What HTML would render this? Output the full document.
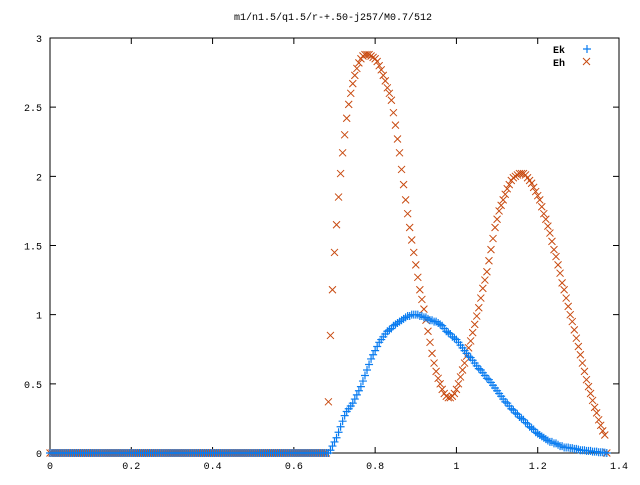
<!DOCTYPE html>
<html><head><meta charset="utf-8"><style>
body{margin:0;background:#fff}
svg text{font-family:"Liberation Mono",monospace;font-size:10px;fill:#000}
</style></head><body>
<svg id="c" width="640" height="480" xmlns="http://www.w3.org/2000/svg">
<rect width="640" height="480" fill="#fff"/>
<text x="333" y="20" text-anchor="middle">m1/n1.5/q1.5/r-+.50-j257/M0.7/512</text>
<g id="axes"></g>
<g id="marks"></g>
<g>
<text x="565" y="53" text-anchor="end" font-weight="bold">Ek</text>
<path d="M583 49h8M587 45v8" stroke="#0a7cf0" stroke-width="1.2"/>
<text x="565" y="66" text-anchor="end" font-weight="bold">Eh</text>
<path d="M583 58l7 7M590 58l-7 7" stroke="#c84a10" stroke-width="1"/>
</g>
</svg>
<script>
const xStart=0, xStep=0.005;
const leadingZeros=new Array(136).fill(0); // x = 0 .. 0.675, both series are zero
const ekActive=[
0,0,0.02,0.05,0.08,0.11,0.15,0.19,0.23,0.27,
0.3,0.32,0.34,0.36,0.39,0.42,0.45,0.48,0.52,0.56,
0.6,0.64,0.68,0.71,0.74,0.77,0.8,0.82,0.84,0.86,
0.88,0.89,0.9,0.92,0.93,0.94,0.95,0.96,0.97,0.98,
0.99,0.99,1.0,1.0,1.0,1.0,0.99,0.99,0.98,0.98,
0.97,0.96,0.96,0.95,0.95,0.94,0.93,0.92,0.9,0.88,
0.87,0.86,0.84,0.83,0.82,0.8,0.78,0.76,0.74,0.72,
0.7,0.69,0.67,0.65,0.63,0.61,0.6,0.58,0.56,0.54,
0.53,0.51,0.49,0.47,0.45,0.43,0.41,0.39,0.37,0.36,
0.34,0.32,0.31,0.29,0.28,0.26,0.25,0.24,0.22,0.21,
0.19,0.18,0.17,0.15,0.14,0.13,0.12,0.11,0.1,0.09,
0.08,0.08,0.07,0.07,0.06,0.05,0.05,0.04,0.04,0.04,
0.035,0.035,0.03,0.03,0.025,0.02,0.02,0.02,0.015,0.015,
0.015,0.01,0.01,0.01,0.005,0.005,0.005,0.003,0];
const ehActive=[
0,0.37,0.85,1.18,1.45,1.65,1.85,2.02,2.17,2.3,
2.42,2.52,2.6,2.67,2.73,2.78,2.82,2.85,2.87,2.88,
2.88,2.88,2.87,2.86,2.85,2.83,2.8,2.77,2.73,2.69,
2.64,2.6,2.55,2.46,2.37,2.27,2.17,2.05,1.94,1.83,
1.73,1.63,1.54,1.45,1.36,1.27,1.18,1.11,1.04,0.96,
0.88,0.8,0.72,0.65,0.59,0.54,0.5,0.46,0.43,0.41,
0.4,0.4,0.41,0.43,0.46,0.5,0.55,0.6,0.65,0.7,
0.76,0.81,0.87,0.93,0.99,1.05,1.12,1.19,1.25,1.31,
1.39,1.47,1.55,1.63,1.69,1.75,1.79,1.83,1.87,1.91,
1.94,1.97,1.99,2.0,2.01,2.02,2.02,2.02,2.01,1.99,
1.97,1.95,1.92,1.89,1.86,1.83,1.78,1.73,1.69,1.64,
1.59,1.53,1.47,1.42,1.36,1.3,1.23,1.18,1.12,1.06,
1.0,0.95,0.89,0.83,0.77,0.71,0.65,0.59,0.53,0.48,
0.43,0.38,0.33,0.29,0.24,0.2,0.16,0.13,0];
const ekValues=leadingZeros.concat(ekActive);
const ehValues=leadingZeros.concat(ehActive);
const xTicks=[0,0.2,0.4,0.6,0.8,1,1.2,1.4];
const xTickLabels=["0","0.2","0.4","0.6","0.8","1","1.2","1.4"];
const yTicks=[0,0.5,1,1.5,2,2.5,3];
const yTickLabels=["0","0.5","1","1.5","2","2.5","3"];
const L=50,R=619,T=38,B=453,X0=0,X1=1.4,Y0=0,Y1=3;
const sx=v=>L+(v-X0)/(X1-X0)*(R-L);
const sy=v=>B-(v-Y0)/(Y1-Y0)*(B-T);
const NS="http://www.w3.org/2000/svg";
const axes=document.getElementById('axes'),marks=document.getElementById('marks');
function mk(tag,attrs,parent){const e=document.createElementNS(NS,tag);for(const k in attrs)e.setAttribute(k,attrs[k]);parent.appendChild(e);return e;}
const frame=mk('rect',{x:L,y:T,width:R-L,height:B-T,fill:'none',stroke:'#000','stroke-width':1},axes);


xTicks.forEach((v,i)=>{const x=sx(v);
 const t=mk('path',{d:`M${x} ${B}v-6M${x} ${T}v6`,stroke:'#000'},axes);
 
 
 const l=mk('text',{x:x,y:B+16,'text-anchor':'middle'},axes);l.textContent=xTickLabels[i];
 
 });
yTicks.forEach((v,i)=>{const y=sy(v);
 const t=mk('path',{d:`M${L} ${y}h6M${R} ${y}h-6`,stroke:'#000'},axes);
 
 
 const l=mk('text',{x:L-8,y:y+4,'text-anchor':'end'},axes);l.textContent=yTickLabels[i];
 
 });
ehValues.forEach((v,i)=>{const x=sx(xStart+i*xStep),y=sy(v);
 const p=mk('path',{d:`M${x-3.5} ${y-3.5}l7 7M${x+3.5} ${y-3.5}l-7 7`,stroke:'#c84a10','stroke-width':1},marks);
 
 });
ekValues.forEach((v,i)=>{const x=sx(xStart+i*xStep),y=sy(v);
 const p=mk('path',{d:`M${x-4} ${y}h8M${x} ${y-4}v8`,stroke:'#0a7cf0','stroke-width':1.2},marks);
 
 });
</script>
</body></html>
